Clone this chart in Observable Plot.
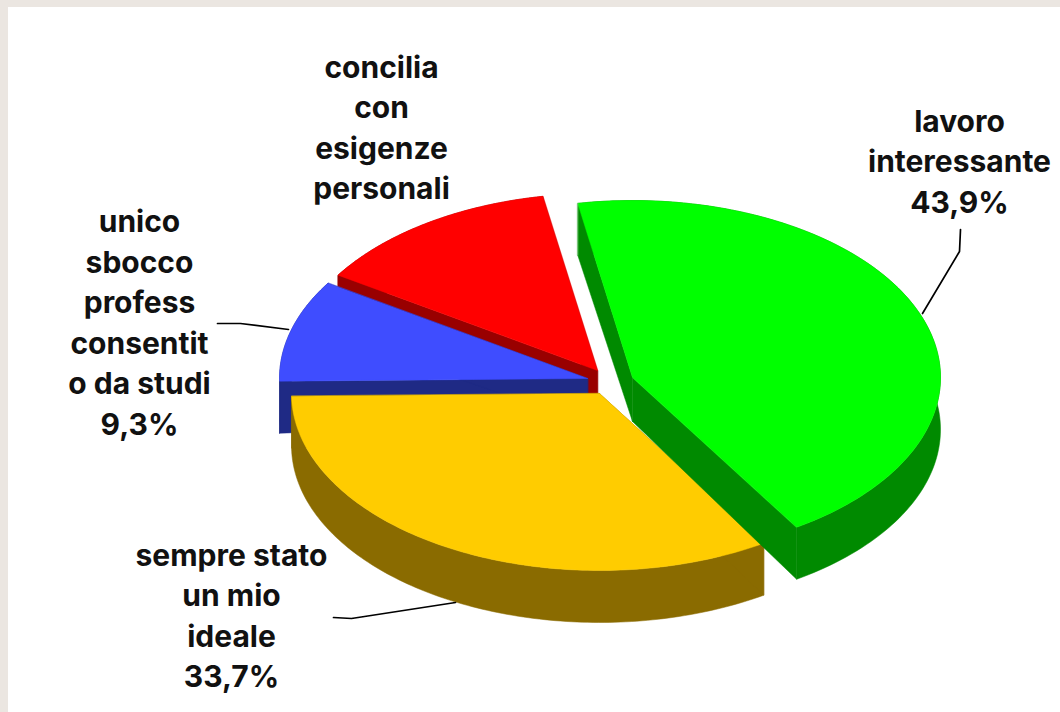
<!DOCTYPE html>
<html lang="it">
<head>
<meta charset="utf-8">
<script src="https://cdn.jsdelivr.net/npm/d3@7"></script>
<script src="https://cdn.jsdelivr.net/npm/@observablehq/plot@0.6"></script>
<style>
html,body{margin:0;padding:0;background:#fff;}
#chart{position:absolute;left:0;top:0;width:1060px;height:712px;box-shadow:inset 8px 7px 0 #ebe6e1;}
#chart svg{display:block;background:transparent;}
</style>
</head>
<body>
<div id="chart"></div>
<script>
// Data, in drawing order
const categories = ["concilia con esigenze personali", "unico sbocco profess consentito da studi", "sempre stato un mio ideale", "lavoro interessante"];
const shares = [13.1, 9.3, 33.7, 43.9];
const labels = [
  "concilia\ncon\nesigenze\npersonali",
  "unico\nsbocco\nprofess\nconsentit\no da studi\n9,3%",
  "sempre stato\nun mio\nideale\n33,7%",
  "lavoro\ninteressante\n43,9%"
];

// Styling and layout
const topColors = ["#ff0000", "#3f4dff", "#ffcc00", "#00ff00"];
const wallColors = ["#990000", "#1f2a85", "#8a6b00", "#008a00"];
const centers = [[597, 370], [587, 378], [599, 393], [632, 377]];
const labelAt = [[381, 125], [139, 320], [231, 613], [959, 159]];
const leaders = [
  [],
  [[217, 323], [240, 323], [288, 329]],
  [[333, 617], [351, 618], [455, 602]],
  [[960, 229], [959, 251], [922, 313]]
];
const rx = 308, ry = 177, depth = 52, apexDepth = 44, startDeg = 57.8; // yellow slice starts here, clockwise

// Angles: walk clockwise from the yellow slice's start
const order = [2, 1, 0, 3];
const angles = [];
let a = startDeg;
for (const i of order) {
  angles[i] = [a, a + shares[i] * 3.6];
  a += shares[i] * 3.6;
}

const pt = (c, deg, dz = 0) => ({
  x: c[0] + rx * Math.cos(deg * Math.PI / 180),
  y: c[1] + ry * Math.sin(deg * Math.PI / 180) + dz
});
const arc = (c, d0, d1, dz = 0) => d3.range(0, 121).map(k => pt(c, d0 + (d1 - d0) * k / 120, dz));

const marks = [];
shares.forEach((_, i) => {
  const c = centers[i], [d0, d1] = angles[i];
  const apex = {x: c[0], y: c[1]}, apexB = {x: c[0], y: c[1] + apexDepth};
  const top = arc(c, d0, d1), bottom = arc(c, d0, d1, depth);
  const polys = [
    [...top, ...bottom.slice().reverse()],
    [apex, top[0], bottom[0], apexB],
    [apex, top[120], bottom[120], apexB]
  ];
  for (const poly of polys) {
    marks.push(Plot.line(poly, {x: "x", y: "y", fill: wallColors[i], stroke: wallColors[i], strokeWidth: 0.5, curve: "linear-closed"}));
  }
  marks.push(Plot.line([apex, ...top], {x: "x", y: "y", fill: topColors[i], stroke: topColors[i], strokeWidth: 0.5, curve: "linear-closed"}));
  if (i === 3) {
    marks.push(Plot.line([top[0], bottom[0]], {x: "x", y: "y", stroke: "#8fd08f", strokeWidth: 1}));
  }
});

leaders.forEach(l => {
  if (l.length) marks.push(Plot.line(l, {x: d => d[0], y: d => d[1], stroke: "#000", strokeWidth: 1.7}));
});

const labelTable = labels.map((text, i) => ({text, name: categories[i], x: labelAt[i][0], y: labelAt[i][1]}));
marks.push(Plot.text(labelTable, {
  x: "x", y: "y", text: "text", lineHeight: 1.35, textAnchor: "middle", lineAnchor: "middle",
  fontFamily: "Inter", fontWeight: 700, fontSize: 30, fill: "#111"
}));

const chart = Plot.plot({
  width: 1060, height: 712,
  margin: 0,
  x: {domain: [0, 1060], range: [0, 1060], axis: null},
  y: {domain: [0, 712], range: [0, 712], axis: null},
  style: {background: "transparent"},
  marks
});
document.getElementById("chart").appendChild(chart);
</script>
</body>
</html>
